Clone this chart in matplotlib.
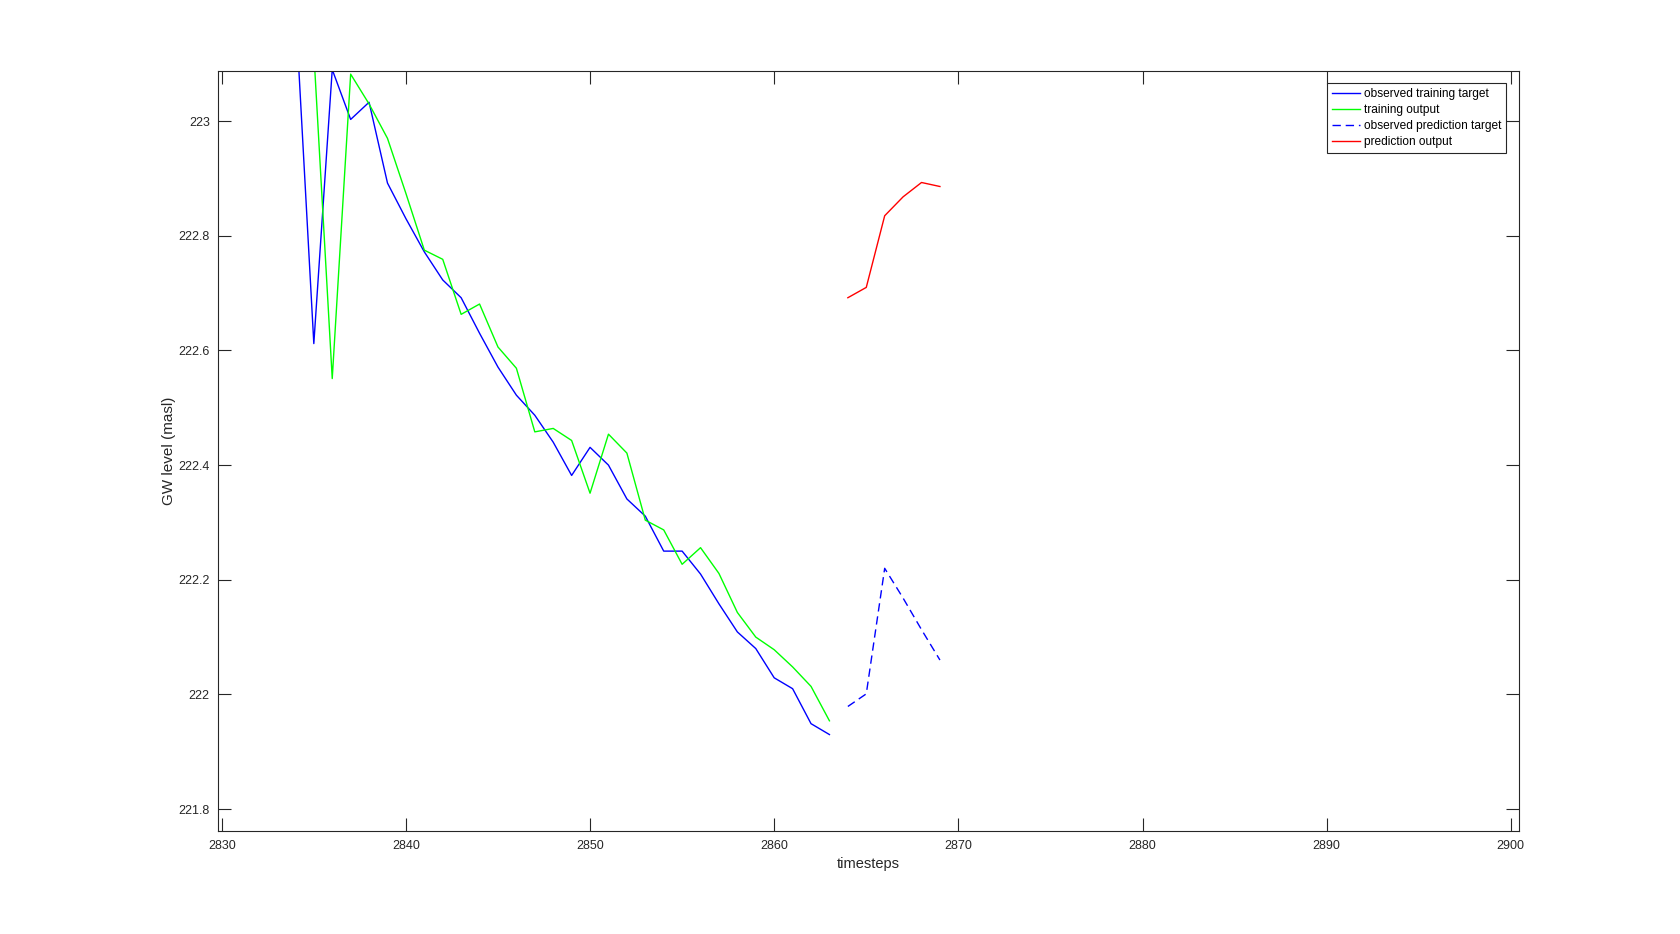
import numpy as np
import matplotlib.pyplot as plt

plt.rcParams['font.family'] = ['Liberation Sans', 'DejaVu Sans']

# observed training target (blue) and training output (green)
train_t = np.arange(2834, 2864)
train_obs = [223.20, 222.612, 223.09, 223.003, 223.033, 222.892, 222.83, 222.772,
             222.723, 222.692, 222.63, 222.571, 222.522, 222.487, 222.44, 222.382,
             222.431, 222.40, 222.341, 222.311, 222.25, 222.25, 222.21, 222.158,
             222.109, 222.08, 222.029, 222.01, 221.949, 221.93]
train_out_t = np.arange(2835, 2864)
train_out = [223.12, 222.551, 223.082, 223.03, 222.97, 222.874, 222.775, 222.759,
             222.663, 222.681, 222.606, 222.569, 222.458, 222.464, 222.443, 222.351,
             222.454, 222.421, 222.304, 222.287, 222.227, 222.256, 222.211, 222.143,
             222.100, 222.078, 222.048, 222.014, 221.954]

# prediction period
pred_t = np.arange(2864, 2870)
pred_obs = [221.979, 222.001, 222.22, 222.168, 222.113, 222.06]
pred_out = [222.692, 222.710, 222.835, 222.868, 222.893, 222.886]

xticks = np.arange(2830, 2901, 10)
yticks = [221.8, 222.0, 222.2, 222.4, 222.6, 222.8, 223.0]
ytick_labels = ['221.8', '222', '222.2', '222.4', '222.6', '222.8', '223']

fig = plt.figure(figsize=(16.8, 9.34), dpi=100)
ax = fig.add_axes([0.1298, 0.1098, 0.904 - 0.1298, 0.9243 - 0.1098])

ax.plot(train_t, train_obs, color='b', lw=1.0, label='observed training target')
ax.plot(train_out_t, train_out, color='#00ff00', lw=1.0, label='training output')
ax.plot(pred_t, pred_obs, color='b', lw=1.0, dashes=(6, 3.5),
        label='observed prediction target')
ax.plot(pred_t, pred_out, color='r', lw=1.0, label='prediction output')

ax.set_xlim(2829.8, 2900.43)
ax.set_ylim(221.761, 223.088)
ax.set_xticks(xticks)
ax.set_yticks(yticks)
ax.set_yticklabels(ytick_labels)

ax.tick_params(direction='in', length=9.5, width=0.8, top=True, right=True,
               labelsize=9, colors='#262626', pad=6)
for s in ax.spines.values():
    s.set_linewidth(0.8)
    s.set_color('#262626')

ax.set_xlabel('timesteps', fontsize=10.5, color='#262626', labelpad=4)
ax.set_ylabel('GW level (masl)', fontsize=11, color='#262626', labelpad=2)

leg = ax.legend(loc='upper right', bbox_to_anchor=(0.9906, 0.9834), borderaxespad=0,
                fontsize=8.6, handlelength=2.35, handletextpad=0.36, labelspacing=0.33,
                borderpad=0.4, fancybox=False, framealpha=1)
leg.get_frame().set_edgecolor('#262626')
leg.get_frame().set_linewidth(0.8)

fig.savefig('out.png', dpi=100)
